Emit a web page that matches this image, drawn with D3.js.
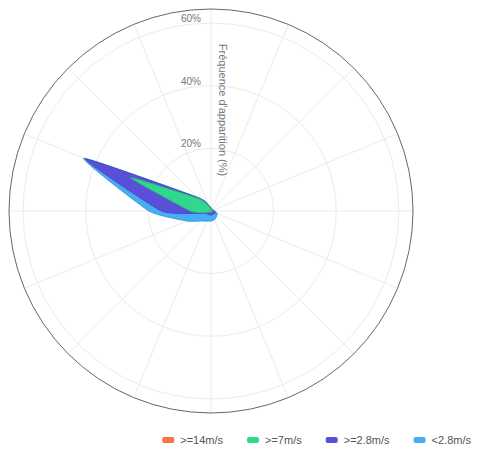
<!DOCTYPE html>
<html>
<head>
<meta charset="utf-8">
<script src="https://cdn.jsdelivr.net/npm/d3@7"></script>
<style>
html,body{margin:0;padding:0;background:#fff;}
svg{display:block;font-family:"Liberation Sans",Arial,sans-serif;}
</style>
</head>
<body>
<svg id="chart" width="478" height="457"></svg>
<script>
// ---- data ----
const directions = ["N","NNE","NE","ENE","E","ESE","SE","SSE","S","SSW","SW","WSW","W","WNW","NW","NNW"];
const seriesNames = [">=14m/s", ">=7m/s", ">=2.8m/s", "<2.8m/s"];
const seriesColors = ["#ff7043", "#2fd88a", "#5a4fd9", "#45aef5"];
const speed14 = [0,0,0,0,0,0,0,0,0,0,0,0,0.2,0.3,0.2,0];
const speed7  = [0.6,0.4,0.3,0.3,0.4,0.6,0.4,0.4,0.4,0.4,0.5,1.0,6.3,27.4,5.3,1.5];
const speed28 = [0.2,0.2,0.2,0.2,0.5,1.0,0.8,0.8,0.9,0.9,1.0,0.8,9.3,15.8,0.5,0.3];
const speedLow= [0.2,0.2,0.2,0.2,0.4,0.6,1.3,1.8,1.9,2.2,3.0,6.5,4.0,0.5,0.3,0.4];
const radialTicks = [20, 40, 60];
const radialLabels = ["20%", "40%", "60%"];
const axisTitle = "Fréquence d'apparition (%)";

const seriesValues = [speed14, speed7, speed28, speedLow];

// ---- layout ----
const svg = d3.select("#chart");
const cx = 211, cy = 211, R = 202;
const g = svg.append("g").attr("transform", `translate(${cx},${cy})`);

const angle = d3.scalePoint().domain(directions).range([0, 2*Math.PI*(15/16)]);
const r = d3.scaleLinear().domain([0, 64.5]).range([0, R]);

// grid circles
g.selectAll("circle.grid").data(radialTicks).join("circle")
  .attr("class","grid").attr("r", d => r(d))
  .attr("fill","none").attr("stroke","#ebebeb").attr("stroke-width",1);

// spokes
g.selectAll("line.spoke").data(directions).join("line")
  .attr("class","spoke")
  .attr("x1",0).attr("y1",0)
  .attr("x2", d => R*Math.sin(angle(d)))
  .attr("y2", d => -R*Math.cos(angle(d)))
  .attr("stroke","#ebebeb").attr("stroke-width",1);

// stacked series
const stacked = [];
let acc = directions.map(() => 0);
seriesValues.forEach((vals) => {
  acc = acc.map((a, j) => a + vals[j]);
  stacked.push(acc.slice());
});

const line = d3.lineRadial()
  .angle((d, i) => angle(directions[i]))
  .radius(d => r(d))
  .curve(d3.curveCardinalClosed.tension(0.55));

for (let i = stacked.length - 1; i >= 0; i--) {
  g.append("path")
    .datum(stacked[i])
    .attr("d", line)
    .attr("fill", seriesColors[i])
    .attr("stroke", d3.color(seriesColors[i]).darker(0.3))
    .attr("stroke-width", 1)
    .attr("stroke-linejoin", "round");
}

// outer circle
g.append("circle").attr("r", R).attr("fill","none")
  .attr("stroke","#666").attr("stroke-width",1);

// radial tick labels
g.selectAll("text.tick").data(radialTicks).join("text")
  .attr("class","tick")
  .attr("x", -10).attr("y", d => -r(d) - 1)
  .attr("text-anchor","end")
  .attr("font-size", 10).attr("fill","#777")
  .text((d, i) => radialLabels[i]);

// axis title
svg.append("text")
  .attr("transform", `translate(219,110) rotate(90)`)
  .attr("text-anchor","middle")
  .attr("font-size", 11).attr("fill","#777")
  .text(axisTitle);

// legend
const legend = svg.append("g").attr("transform","translate(0,440)");
const items = legend.selectAll("g.item").data(seriesNames).join("g").attr("class","item");
items.append("rect").attr("width",12).attr("height",6).attr("y",-3).attr("rx",2)
  .attr("fill",(d,i)=>seriesColors[i]);
items.append("text").attr("x",18).attr("y",4)
  .attr("font-size",11).attr("fill","#555").text(d=>d);
let xEnd = 471;
const widths = [];
items.each(function(){ widths.push(18 + this.querySelector("text").getComputedTextLength()); });
const positions = [];
for (let i = seriesNames.length - 1; i >= 0; i--) {
  xEnd -= widths[i];
  positions[i] = xEnd;
  xEnd -= 24;
}
items.attr("transform",(d,i)=>`translate(${positions[i]},0)`);
</script>
</body>
</html>
